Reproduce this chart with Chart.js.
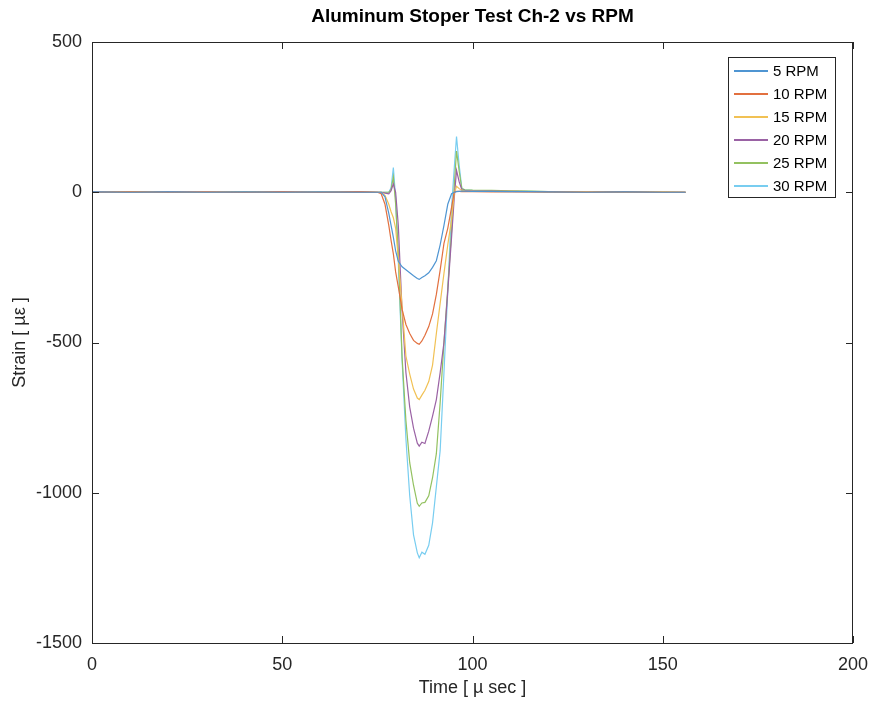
<!DOCTYPE html>
<html>
<head>
<meta charset="utf-8">
<script src="https://cdn.jsdelivr.net/npm/chart.js@4/dist/chart.umd.min.js"></script>
<style>
  html, body { margin: 0; padding: 0; background: #fff; }
  #wrap { width: 871px; height: 702px; }
</style>
</head>
<body>
<div id="wrap"><canvas id="strainChart" width="871" height="702"></canvas></div>
<script>
// time samples [µs]
const timeUs = [0, 10, 20, 30, 40, 50, 60, 70, 75, 76, 77, 78, 78.6, 79.2, 79.8, 80.5, 81.5, 82.5, 83.5, 84.5,
  85.5, 86, 86.7, 87.5, 88.5, 89.5, 90.5, 91.5, 92.5, 93.5, 94.5, 95.2, 95.8, 96.5, 97.2, 98,
  100, 105, 110, 115, 120, 130, 140, 150, 156];

// strain [µε] for each speed
const rpm5 = [1, 0, 1, 0, 1, 0, 1, 0, 0, 0, -15, -70, -110, -150, -195, -230, -248, -258, -268, -278,
  -287, -290, -284, -278, -268, -250, -228, -175, -110, -40, -5, 0, 2, 3, 4, 4,
  3, 3, 2, 2, 1, 0, 1, 0, 0];
const rpm10 = [0, 1, 0, 1, 0, 1, 0, 1, 0, -5, -40, -110, -160, -205, -265, -315, -390, -440, -470, -493,
  -503, -506, -495, -476, -447, -405, -340, -259, -170, -120, -50, 0, 3, 3, 2, 2,
  2, 1, 1, 2, 1, 0, 1, 0, 0];
const rpm15 = [0, 1, 0, 0, 1, 0, 1, 0, 0, 0, -10, -40, -65, -85, -120, -220, -380, -545, -605, -655,
  -685, -690, -675, -659, -630, -575, -470, -370, -270, -175, -90, -5, 20, 12, 6, 5,
  4, 3, 3, 2, 1, 1, 0, 1, 0];
const rpm20 = [1, 0, 1, 0, 0, 1, 0, 1, 0, 0, -3, -5, 5, 28, 0, -110, -395, -600, -715, -785,
  -835, -845, -832, -836, -795, -745, -690, -600, -500, -330, -150, -20, 73, 35, 8, 6,
  5, 4, 3, 2, 1, 1, 0, 0, 0];
const rpm25 = [0, 1, 1, 0, 1, 0, 0, 1, 0, 0, 0, 0, 10, 51, -40, -200, -550, -760, -900, -975,
  -1035, -1045, -1034, -1032, -1010, -950, -870, -700, -500, -320, -130, 20, 137, 70, 12, 8,
  7, 6, 5, 4, 2, 1, 1, 0, 0];
const rpm30 = [0, 0, 1, 0, 1, 1, 0, 0, 0, 0, 0, 0, 15, 82, -20, -230, -560, -820, -1010, -1140,
  -1200, -1216, -1198, -1205, -1175, -1100, -980, -860, -600, -330, -50, 80, 185, 90, 12, 8,
  6, 5, 4, 3, 2, 1, 0, 1, 0];

const seriesLabels = ['5 RPM', '10 RPM', '15 RPM', '20 RPM', '25 RPM', '30 RPM'];
const seriesValues = [rpm5, rpm10, rpm15, rpm20, rpm25, rpm30];
const seriesColors = ['#4f95d2', '#e2703f', '#f1c154', '#9a62a4', '#93c160', '#78cdf0'];

const xTicks = [0, 50, 100, 150, 200];
const yTicks = [500, 0, -500, -1000, -1500];

const axisColor = '#262626';
const fontFamily = '"Liberation Sans", Arial, Helvetica, sans-serif';

// box, inward ticks, titles and the legend box
const framePlugin = {
  id: 'frame',
  afterDraw(chart) {
    const ctx = chart.ctx;
    const a = chart.chartArea;
    const xs = chart.scales.x;
    const ys = chart.scales.y;
    ctx.save();
    ctx.strokeStyle = axisColor;
    ctx.lineWidth = 1;
    ctx.strokeRect(a.left + 0.5, a.top + 0.5, a.right - a.left - 1, a.bottom - a.top);
    ctx.beginPath();
    xTicks.forEach(v => {
      const px = Math.round(xs.getPixelForValue(v)) + 0.5;
      ctx.moveTo(px, a.bottom); ctx.lineTo(px, a.bottom - 7);
      ctx.moveTo(px, a.top); ctx.lineTo(px, a.top + 7);
    });
    yTicks.forEach(v => {
      const py = Math.round(ys.getPixelForValue(v)) + 0.5;
      ctx.moveTo(a.left, py); ctx.lineTo(a.left + 7, py);
      ctx.moveTo(a.right, py); ctx.lineTo(a.right - 7, py);
    });
    ctx.stroke();

    // titles
    ctx.fillStyle = '#000';
    ctx.textAlign = 'center';
    ctx.textBaseline = 'middle';
    ctx.font = 'bold 19px ' + fontFamily;
    ctx.fillText('Aluminum Stoper Test Ch-2 vs RPM', (a.left + a.right) / 2, 17);
    ctx.fillStyle = axisColor;
    ctx.font = '18px ' + fontFamily;
    ctx.fillText('Time [ µ sec ]', (a.left + a.right) / 2, 688);
    ctx.save();
    ctx.translate(20, (a.top + a.bottom) / 2);
    ctx.rotate(-Math.PI / 2);
    ctx.fillText('Strain [ µε ]', 0, 0);
    ctx.restore();

    // legend
    const lx = a.right - 125, ly = a.top + 15, lw = 107, lh = 140;
    ctx.fillStyle = '#fff';
    ctx.fillRect(lx, ly, lw, lh);
    ctx.strokeStyle = axisColor;
    ctx.lineWidth = 1;
    ctx.strokeRect(lx + 0.5, ly + 0.5, lw, lh);
    ctx.font = '15px ' + fontFamily;
    ctx.textAlign = 'left';
    chart.data.datasets.forEach((ds, i) => {
      const ry = Math.round(ly + 13.5 + i * 23.1);
      ctx.strokeStyle = ds.borderColor;
      ctx.lineWidth = 2;
      ctx.beginPath();
      ctx.moveTo(lx + 6, ry);
      ctx.lineTo(lx + 40, ry);
      ctx.stroke();
      ctx.fillStyle = '#000';
      ctx.fillText(ds.label, lx + 45, ry + 1);
    });
    ctx.restore();
  }
};

const ctx = document.getElementById('strainChart').getContext('2d');
const strainChart = new Chart(ctx, {
  type: 'line',
  data: {
    datasets: seriesLabels.map((label, i) => ({
      label: label,
      data: timeUs.map((t, k) => ({ x: t, y: seriesValues[i][k] })),
      borderColor: seriesColors[i],
      borderWidth: 1.2,
      pointRadius: 0,
      tension: 0,
      fill: false
    }))
  },
  options: {
    responsive: false,
    animation: false,
    layout: { padding: { top: 42, right: 18, left: 0, bottom: 0 } },
    plugins: {
      legend: { display: false },
      tooltip: { enabled: false }
    },
    scales: {
      x: {
        type: 'linear',
        min: 0,
        max: 200,
        afterBuildTicks: s => { s.ticks = xTicks.map(v => ({ value: v })); },
        afterFit: s => { s.height = 59; s.paddingLeft = 0; s.paddingRight = 0; },
        grid: { display: false, drawTicks: false },
        border: { display: false },
        ticks: { color: axisColor, padding: 11, maxRotation: 0, font: { size: 18, family: fontFamily },
          callback: v => String(v) }
      },
      y: {
        type: 'linear',
        min: -1500,
        max: 500,
        afterBuildTicks: s => { s.ticks = yTicks.map(v => ({ value: v })); },
        afterFit: s => { s.width = 92; s.paddingTop = 0; s.paddingBottom = 0; },
        grid: { display: false, drawTicks: false },
        border: { display: false },
        ticks: { color: axisColor, padding: 10, font: { size: 18, family: fontFamily },
          callback: v => String(v) }
      }
    }
  },
  plugins: [framePlugin]
});
</script>
</body>
</html>
